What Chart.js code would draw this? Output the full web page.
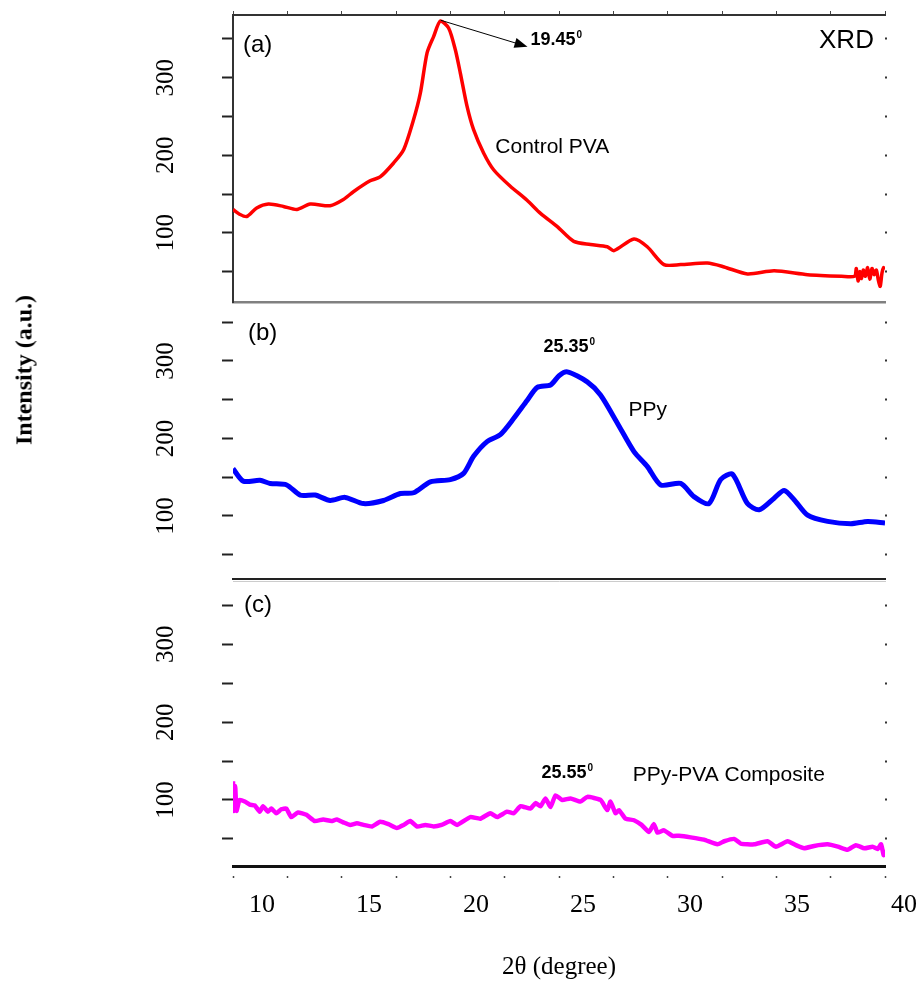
<!DOCTYPE html>
<html>
<head>
<meta charset="utf-8">
<title>XRD</title>
<script src="https://cdn.jsdelivr.net/npm/chart.js@4.4.1/dist/chart.umd.min.js"></script>
<style>
  body { margin: 0; background: #fff; }
  #wrap { position: relative; width: 917px; height: 988px; overflow: hidden; background: #fff; }
  canvas { position: absolute; left: 0; }
  #ytitle {
    position: absolute; left: 24px; top: 370px;
    transform: translate(-50%, -50%) rotate(-90deg);
    font: bold 24px "Liberation Serif", "Times New Roman", serif;
    white-space: nowrap; color: #000;
  }
</style>
</head>
<body>
<div id="wrap">
  <canvas id="panel-a" width="917" height="310" style="top:0px"></canvas>
  <canvas id="panel-b" width="917" height="285" style="top:300px"></canvas>
  <canvas id="panel-c" width="917" height="410" style="top:578px"></canvas>
  <div id="ytitle">Intensity (a.u.)</div>
</div>
<script>
// ---------------- data ----------------
// (a) control PVA
const angleA = [10.0, 10.3, 10.63, 11.09, 11.63, 12.32, 12.94, 13.55, 14.47, 15.08, 15.54, 16.31, 16.77, 17.39, 17.85,
  18.31, 18.62, 18.93, 19.23, 19.54, 19.92, 20.23, 20.46, 20.77, 21.07, 21.53, 22.0, 22.76, 23.53, 24.15,
  24.92, 25.68, 26.45, 27.22, 27.53, 28.45, 29.06, 29.83, 30.6, 31.83, 32.6, 33.67, 34.9, 36.44, 38.0,
  38.6, 38.68, 38.76, 38.84, 38.92, 39.0, 39.1, 39.2, 39.3, 39.4, 39.5, 39.6, 39.7, 39.78, 39.86, 39.93, 40.0];
const intensityA = [130, 124, 121, 132, 137, 134, 130, 137, 135, 143, 153, 167, 172, 190, 207,
  246, 280, 332, 353, 373, 364, 336, 306, 263, 233, 203, 181, 160, 142, 125,
  108, 89, 85, 82, 77, 92, 82, 59, 59, 61, 56, 47, 51, 46, 44,
  44, 54, 38, 50, 41, 52, 44, 55, 40, 54, 46, 52, 38, 31, 48, 55, 53];

// (b) PPy
const angleB = [10.0, 10.47, 11.24, 11.71, 12.47, 13.09, 13.78, 14.47, 15.16, 16.0, 16.93, 17.7, 18.31, 19.08, 20.0,
  20.61, 21.07, 21.69, 22.3, 22.92, 23.53, 24.0, 24.61, 25.0, 25.38, 26.3, 26.91, 27.68, 28.45, 29.06,
  29.68, 30.6, 31.21, 31.9, 32.44, 32.98, 33.67, 34.21, 34.9, 35.36, 35.82, 36.44, 37.36, 38.43, 39.2, 40.0];
const intensityB = [161, 145, 146, 142, 140, 127, 127, 120, 124, 116, 120, 129, 130, 144, 147,
  155, 177, 196, 205, 226, 249, 266, 269, 281, 286, 273, 256, 220, 183, 164,
  140, 142, 125, 116, 147, 154, 116, 108, 123, 133, 121, 101, 93, 90, 93, 91];

// (c) PPy-PVA composite
const angleC = [10.0, 10.04, 10.1, 10.16, 10.3, 10.54, 10.77, 11.0, 11.23, 11.38, 11.61, 11.76, 11.99, 12.22, 12.45,
  12.68, 12.99, 13.38, 13.76, 14.15, 14.53, 14.78, 15.1, 15.39, 15.7, 16.0, 16.4, 16.77, 17.15, 17.54,
  17.85, 18.16, 18.47, 18.85, 19.23, 19.6, 20.0, 20.31, 20.92, 21.38, 21.84, 22.15, 22.61, 22.92, 23.23,
  23.69, 23.92, 24.15, 24.38, 24.61, 24.84, 25.15, 25.53, 25.99, 26.3, 26.91, 27.22, 27.37, 27.6, 27.76,
  28.06, 28.45, 28.8, 29.14, 29.37, 29.53, 29.83, 30.22, 30.52, 31.06, 31.67, 32.29, 32.6, 33.06, 33.36,
  33.98, 34.59, 34.98, 35.52, 35.9, 36.28, 36.74, 37.36, 37.83, 38.28, 38.66, 39.05, 39.43, 39.66, 39.82, 39.94, 40.0];
const intensityC = [124, 86, 118, 86, 100, 98, 94, 93, 85, 92, 85, 89, 83, 88, 89,
  78, 84, 81, 73, 75, 73, 75, 71, 68, 70, 68, 66, 72, 69, 64,
  68, 73, 66, 68, 66, 68, 73, 68, 78, 76, 83, 78, 85, 83, 92,
  89, 96, 92, 102, 91, 106, 100, 102, 98, 104, 100, 87, 98, 83, 87,
  76, 74, 68, 59, 69, 58, 61, 54, 54, 52, 49, 43, 47, 50, 44,
  43, 47, 40, 47, 42, 38, 41, 43, 40, 36, 42, 38, 40, 37, 43, 29, 36];

// axes
const xTickValues = [10, 12.5, 15, 17.5, 20, 22.5, 25, 27.5, 30, 32.5, 35, 37.5, 40];
const xLabelValues = [10, 15, 20, 25, 30, 35, 40];
// the printed label row of the original sits a little right of its tick marks
const xLabelRange = [8.645, 39.112];
const yTickValues = [50, 100, 150, 200, 250, 300, 350];
const yLabelValues = [100, 200, 300];

const SERIF = '"Liberation Serif", "Times New Roman", serif';
const SANS = '"Liberation Sans", Arial, sans-serif';

function toPoints(xs, ys) {
  return xs.map((x, i) => ({ x: x, y: ys[i] }));
}

function setTicks(values) {
  return function (scale) {
    scale.ticks = values.map(v => ({ value: v }));
  };
}

// fixed axis sizes so the three panels line up
function fixSize(prop, size) {
  return function (scale) {
    scale[prop] = size;
    scale.paddingLeft = 0;
    scale.paddingRight = 0;
    scale.paddingTop = 0;
    scale.paddingBottom = 0;
  };
}

// panel captions, peak positions and the arrow
const notesPlugin = {
  id: 'notes',
  afterDatasetsDraw(chart, args, opts) {
    const ctx = chart.ctx;
    const sx = chart.scales.x;
    const sy = chart.scales.y;
    ctx.save();
    ctx.fillStyle = '#000';
    ctx.textBaseline = 'middle';
    (opts.items || []).forEach(n => {
      const px = sx.getPixelForValue(n.x);
      const py = sy.getPixelForValue(n.y);
      ctx.font = n.font;
      ctx.textAlign = n.align || 'left';
      ctx.fillText(n.text, px, py);
      if (n.sup) {
        const w = ctx.measureText(n.text).width;
        ctx.font = n.supFont;
        ctx.textAlign = 'left';
        ctx.fillText(n.sup, px + w + 1, py - 5);
      }
    });
    if (opts.arrow) {
      const a = opts.arrow;
      const x1 = sx.getPixelForValue(a.from[0]), y1 = sy.getPixelForValue(a.from[1]);
      const x2 = sx.getPixelForValue(a.to[0]), y2 = sy.getPixelForValue(a.to[1]);
      const ang = Math.atan2(y2 - y1, x2 - x1);
      const c = Math.cos(ang), s = Math.sin(ang);
      ctx.strokeStyle = '#000';
      ctx.lineWidth = 1;
      ctx.beginPath();
      ctx.moveTo(x1, y1);
      ctx.lineTo(x2 - 10 * c, y2 - 10 * s);
      ctx.stroke();
      ctx.beginPath();
      ctx.moveTo(x2, y2);
      ctx.lineTo(x2 - 13 * c + 5 * s, y2 - 13 * s - 5 * c);
      ctx.lineTo(x2 - 13 * c - 5 * s, y2 - 13 * s + 5 * c);
      ctx.closePath();
      ctx.fill();
    }
    ctx.restore();
  }
};

function makePanel(id, p) {
  const scales = {
    x: {
      type: 'linear', position: 'bottom', weight: 0, min: 10, max: 40,
      afterBuildTicks: setTicks(xTickValues),
      afterFit: fixSize('height', p.bottomH),
      border: p.bottomBorder,
      grid: p.bottomGrid,
      ticks: { display: false }
    },
    xTop: {
      type: 'linear', position: 'top', min: 10, max: 40,
      afterBuildTicks: setTicks(xTickValues),
      afterFit: fixSize('height', p.topH),
      border: p.topBorder,
      grid: p.topGrid,
      ticks: { display: false }
    },
    y: {
      type: 'linear', position: 'left', min: p.yMin, max: p.yMax,
      afterBuildTicks: setTicks(yTickValues),
      afterFit: fixSize('width', 233),
      border: p.leftBorder,
      grid: { display: true, drawOnChartArea: false, drawTicks: true, tickLength: 11, tickWidth: 2, tickColor: '#222' },
      ticks: {
        display: true,
        minRotation: 90,
        maxRotation: 90,
        crossAlign: 'center',
        padding: 37,
        color: '#000',
        font: { family: SERIF, size: 25 },
        callback: v => yLabelValues.includes(v) ? String(v) : ''
      }
    },
    yRight: {
      type: 'linear', position: 'right', min: p.yMin, max: p.yMax,
      afterBuildTicks: setTicks(yTickValues),
      afterFit: fixSize('width', 32),
      border: { display: false },
      grid: { display: true, drawOnChartArea: false, drawTicks: true, tickLength: 2, tickWidth: 2, tickColor: '#333' },
      ticks: { display: false }
    }
  };

  if (p.labelH) {
    // row of angle labels and the axis title below the last panel
    scales.xLab = {
      type: 'linear', position: 'bottom', weight: 1,
      min: xLabelRange[0], max: xLabelRange[1],
      afterBuildTicks: setTicks(xLabelValues),
      afterFit: fixSize('height', p.labelH),
      border: { display: false },
      grid: { display: false, drawTicks: false, drawOnChartArea: false },
      ticks: {
        display: true, autoSkip: false, maxRotation: 0, padding: 10,
        color: '#000', font: { family: SERIF, size: 26 },
        callback: v => String(v)
      },
      title: {
        display: true, text: '2θ (degree)', color: '#000',
        font: { family: SERIF, size: 25 }, padding: { top: 0, bottom: 6 }
      }
    };
  }

  return new Chart(document.getElementById(id), {
    type: 'line',
    data: {
      datasets: [{
        data: toPoints(p.xs, p.ys),
        borderColor: p.color,
        borderWidth: p.lineWidth,
        pointRadius: 0,
        tension: p.tension,
        fill: false
      }]
    },
    plugins: [notesPlugin],
    options: {
      responsive: false,
      animation: false,
      events: [],
      layout: { padding: 0 },
      plugins: {
        legend: { display: false },
        tooltip: { enabled: false },
        notes: { items: p.notes, arrow: p.arrow }
      },
      scales: scales
    }
  });
}

const noGrid = { display: false, drawOnChartArea: false };

// ---------------- (a) Control PVA ----------------
makePanel('panel-a', {
  xs: angleA, ys: intensityA, color: '#ff0000', lineWidth: 3.5, tension: 0.25,
  yMin: 10.8, yMax: 380.8, topH: 15, bottomH: 8,
  topBorder: { display: true, color: '#333', width: 2 },
  topGrid: { display: true, drawOnChartArea: false, drawTicks: true, tickLength: 4, tickWidth: 1, tickColor: '#444' },
  bottomBorder: { display: true, color: '#808080', width: 2.5 },
  bottomGrid: noGrid,
  leftBorder: { display: true, color: '#333', width: 2 },
  notes: [
    { x: 10.46, y: 342, text: '(a)', font: '24px ' + SANS },
    { x: 39.49, y: 347, text: 'XRD', font: '26px ' + SANS, align: 'right' },
    { x: 23.69, y: 348.6, text: '19.45', font: 'bold 18px ' + SANS, sup: '0', supFont: 'bold 10px ' + SANS },
    { x: 22.07, y: 211, text: 'Control PVA', font: '21px ' + SANS }
  ],
  arrow: { from: [19.56, 374], to: [23.55, 340] }
});

// ---------------- (b) PPy ----------------
makePanel('panel-b', {
  xs: angleB, ys: intensityB, color: '#0000ff', lineWidth: 5, tension: 0.25,
  yMin: 18.7, yMax: 374.8, topH: 3, bottomH: 6,
  topBorder: { display: false },
  topGrid: noGrid,
  bottomBorder: { display: true, color: '#222', width: 2 },
  bottomGrid: noGrid,
  leftBorder: { display: false },
  notes: [
    { x: 10.69, y: 336, text: '(b)', font: '24px ' + SANS },
    { x: 24.29, y: 318, text: '25.35', font: 'bold 18px ' + SANS, sup: '0', supFont: 'bold 10px ' + SANS },
    { x: 28.2, y: 237, text: 'PPy', font: '21px ' + SANS }
  ]
});

// ---------------- (c) PPy-PVA Composite ----------------
makePanel('panel-c', {
  xs: angleC, ys: intensityC, color: '#ff00ff', lineWidth: 4.5, tension: 0.15,
  yMin: 15.2, yMax: 381.3, topH: 3, bottomH: 14, labelH: 108,
  topBorder: { display: true, color: '#cccccc', width: 1 },
  topGrid: noGrid,
  bottomBorder: { display: true, color: '#111', width: 3 },
  bottomGrid: {
    display: true, drawOnChartArea: false, drawTicks: true, tickLength: 12,
    tickWidth: 1.5, tickColor: '#444', tickBorderDash: [3, 20], tickBorderDashOffset: 15
  },
  leftBorder: { display: false },
  notes: [
    { x: 10.51, y: 350.5, text: '(c)', font: '24px ' + SANS },
    { x: 24.19, y: 134.7, text: '25.55', font: 'bold 18px ' + SANS, sup: '0', supFont: 'bold 10px ' + SANS },
    { x: 28.39, y: 132, text: 'PPy-PVA Composite', font: '21px ' + SANS }
  ]
});
</script>
</body>
</html>
